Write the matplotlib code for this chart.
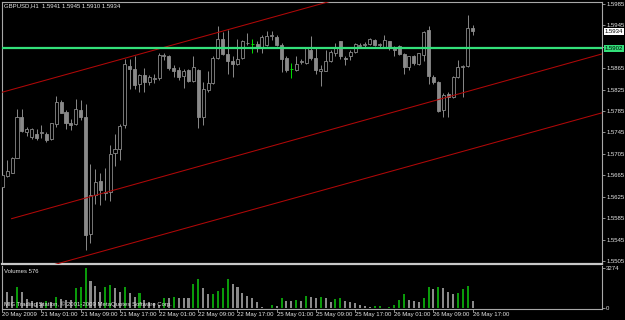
import numpy as np
import matplotlib
matplotlib.use('agg')
import matplotlib.pyplot as plt
from matplotlib.transforms import blended_transform_factory

# GBPUSD H1, bar 0 = 21 May 2009 01:00, one bar per hour (weekend skipped)
bar_idx = list(range(-8, 89))

opens = [1.5644, 1.5663, 1.5670, 1.5698, 1.5773, 1.5746, 1.5736, 1.5743,
         1.5744, 1.5742, 1.5732, 1.5760, 1.5802, 1.5784, 1.5762, 1.5760,
         1.5787, 1.5773, 1.5555, 1.5628, 1.5654, 1.5632, 1.5634, 1.5706,
         1.5715, 1.5759, 1.5869, 1.5864, 1.5836, 1.5852, 1.5840, 1.5845,
         1.5846, 1.5887, 1.5888, 1.5865, 1.5862, 1.5850, 1.5862, 1.5842,
         1.5862, 1.5774, 1.5824, 1.5837, 1.5884, 1.5919, 1.5891, 1.5879,
         1.5873, 1.5884, 1.5912, 1.5910, 1.5910, 1.5902, 1.5908, 1.5926,
         1.5924, 1.5908, 1.5885, 1.5864, 1.5862, 1.5877, 1.5874, 1.5900,
         1.5885, 1.5859, 1.5860, 1.5879, 1.5893, 1.5915, 1.5885, 1.5887,
         1.5895, 1.5907, 1.5908, 1.5910, 1.5918, 1.5909, 1.5905, 1.5916,
         1.5905, 1.5907, 1.5892, 1.5867, 1.5888, 1.5873, 1.5890, 1.5936,
         1.5848, 1.5840, 1.5787, 1.5816, 1.5811, 1.5848, 1.5867, 1.5870,
         1.5941]
highs = [1.5706, 1.5693, 1.5700, 1.5789, 1.5788, 1.5755, 1.5753, 1.5751,
         1.5759, 1.5746, 1.5763, 1.5813, 1.5806, 1.5787, 1.5771, 1.5807,
         1.5806, 1.5798, 1.5686, 1.5676, 1.5669, 1.5678, 1.5722, 1.5742,
         1.5760, 1.5882, 1.5883, 1.5887, 1.5855, 1.5865, 1.5852, 1.5855,
         1.5893, 1.5894, 1.5890, 1.5871, 1.5868, 1.5863, 1.5863, 1.5887,
         1.5863, 1.5840, 1.5859, 1.5888, 1.5943, 1.5933, 1.5936, 1.5887,
         1.5919, 1.5918, 1.5931, 1.5919, 1.5915, 1.5927, 1.5935, 1.5935,
         1.5927, 1.5912, 1.5887, 1.5874, 1.5887, 1.5882, 1.5904, 1.5925,
         1.5902, 1.5871, 1.5899, 1.5900, 1.5912, 1.5916, 1.5887, 1.5900,
         1.5912, 1.5913, 1.5914, 1.5921, 1.5919, 1.5912, 1.5927, 1.5916,
         1.5907, 1.5908, 1.5894, 1.5888, 1.5890, 1.5894, 1.5935, 1.5944,
         1.5852, 1.5842, 1.5818, 1.5821, 1.5850, 1.5880, 1.5871, 1.5964,
         1.5945]
lows = [1.5640, 1.5662, 1.5669, 1.5698, 1.5746, 1.5738, 1.5732, 1.5731,
        1.5734, 1.5728, 1.5731, 1.5756, 1.5781, 1.5751, 1.5750, 1.5759,
        1.5768, 1.5525, 1.5538, 1.5612, 1.5609, 1.5619, 1.5617, 1.5683,
        1.5693, 1.5753, 1.5827, 1.5827, 1.5821, 1.5821, 1.5834, 1.5838,
        1.5843, 1.5880, 1.5862, 1.5849, 1.5843, 1.5829, 1.5840, 1.5840,
        1.5753, 1.5759, 1.5821, 1.5836, 1.5882, 1.5890, 1.5855, 1.5849,
        1.5871, 1.5882, 1.5908, 1.5894, 1.5896, 1.5894, 1.5907, 1.5918,
        1.5907, 1.5858, 1.5858, 1.5846, 1.5860, 1.5873, 1.5873, 1.5880,
        1.5855, 1.5831, 1.5859, 1.5877, 1.5888, 1.5883, 1.5871, 1.5880,
        1.5893, 1.5904, 1.5905, 1.5908, 1.5907, 1.5905, 1.5904, 1.5900,
        1.5887, 1.5890, 1.5855, 1.5862, 1.5871, 1.5871, 1.5879, 1.5836,
        1.5836, 1.5784, 1.5774, 1.5774, 1.5809, 1.5846, 1.5812, 1.5868,
        1.5928]
closes = [1.5665, 1.5673, 1.5697, 1.5774, 1.5748, 1.5751, 1.5751, 1.5735,
          1.5745, 1.5731, 1.5762, 1.5802, 1.5782, 1.5762, 1.5759, 1.5788,
          1.5774, 1.5553, 1.5628, 1.5653, 1.5637, 1.5634, 1.5705, 1.5715,
          1.5758, 1.5873, 1.5864, 1.5834, 1.5852, 1.5840, 1.5849, 1.5847,
          1.5890, 1.5890, 1.5865, 1.5859, 1.5849, 1.5860, 1.5841, 1.5867,
          1.5774, 1.5826, 1.5838, 1.5885, 1.5919, 1.5891, 1.5879, 1.5873,
          1.5882, 1.5915, 1.5913, 1.5910, 1.5902, 1.5924, 1.5925, 1.5927,
          1.5908, 1.5883, 1.5862, 1.5864, 1.5873, 1.5878, 1.5902, 1.5885,
          1.5862, 1.5863, 1.5879, 1.5895, 1.5902, 1.5887, 1.5883, 1.5895,
          1.5910, 1.5909, 1.5911, 1.5919, 1.5908, 1.5910, 1.5918, 1.5902,
          1.5900, 1.5892, 1.5868, 1.5887, 1.5874, 1.5893, 1.5933, 1.5851,
          1.5839, 1.5786, 1.5815, 1.5811, 1.5848, 1.5868, 1.5869, 1.5941,
          1.5934]
volumes = [1693, 1310, 1037, 1775, 1310, 764, 601, 491,
           410, 601, 491, 956, 737, 710, 655, 1693,
           1775, 3274, 2239, 1856, 1310, 1720, 1911, 1693,
           1310, 1775, 1229, 956, 1229, 683, 546, 410,
           273, 874, 819, 901, 874, 846, 819, 1966,
           2402, 1638, 1147, 1174, 1420, 1638, 2375, 1966,
           1720, 1283, 1010, 874, 546, 137, 55, 273,
           191, 819, 601, 573, 683, 601, 1037, 901,
           874, 928, 874, 546, 737, 819, 601, 546,
           410, 273, 218, 137, 164, 191, 55, 137,
           273, 683, 1147, 655, 601, 519, 874, 1747,
           1583, 1720, 1693, 1310, 1174, 1256, 1583, 1802,
           576]

price_ticks = [1.5505, 1.5545, 1.5585, 1.5625, 1.5665, 1.5705, 1.5745,
               1.5785, 1.5825, 1.5865, 1.5905, 1.5945, 1.5985]
time_ticks = [-8, 0, 8, 16, 24, 32, 40, 48, 56, 64, 72, 80, 88]
time_labels = ['20 May 2009', '21 May 01:00', '21 May 09:00', '21 May 17:00',
               '22 May 01:00', '22 May 09:00', '22 May 17:00', '25 May 01:00',
               '25 May 09:00', '25 May 17:00', '26 May 01:00', '26 May 09:00',
               '26 May 17:00']

# trend lines: (bar, price) -> (bar, price)
trend_lines = [((-8.5, 1.5819), (114.5, 1.6131)),
               ((-6.1, 1.5584), (114.5, 1.5892)),
               ((-8.5, 1.5470), (114.5, 1.5782))]
hline_price = 1.5902

BG = 'black'
FRAME = '#a8a8a8'
TXT = '#e6e6e6'
GRAY = '#8a8a8a'
fonts = ['Liberation Sans', 'DejaVu Sans']
FS = 4.3

W, H = 625, 320
fig = plt.figure(figsize=(W / 100, H / 100), dpi=100, facecolor=BG)
ax = fig.add_axes([2 / W, 1 - 264 / H, 600 / W, 262.5 / H], facecolor=BG)
axv = fig.add_axes([2 / W, 1 - 309 / H, 600 / W, 43 / H], facecolor=BG)

x = np.array(bar_idx)
o, h, l, c = (np.array(v) for v in (opens, highs, lows, closes))
doji = o == c
bull = c > o

ax.vlines(x[~doji], l[~doji], h[~doji], colors=GRAY, lw=0.7, zorder=2)
ax.vlines(x[doji], l[doji], h[doji], colors='#00e000', lw=0.7, zorder=2)
nd = ~doji
ax.bar(x[nd], np.abs(c - o)[nd], bottom=np.minimum(o, c)[nd], width=0.62,
       color=np.where(bull[nd], 'black', GRAY), edgecolor=GRAY, lw=0.6, zorder=3)
ax.hlines(c[doji], x[doji] - 0.31, x[doji] + 0.31, colors='#00e000', lw=0.7, zorder=3)

for (x0, y0), (x1, y1) in trend_lines:
    ax.plot([x0, x1], [y0, y1], color='#b00808', lw=0.75, zorder=4)
ax.axhline(hline_price, color='#33e07a', lw=1.6, zorder=5)

ax.set_xlim(-8.06, 114.4)
ax.set_ylim(1.54993, 1.59897)
ax.set_xticks([])
ax.yaxis.tick_right()
# the 1.5905 label sits under the horizontal-line price box
ax.set_yticks(price_ticks,
              ['' if abs(p - hline_price) < 0.0006 else f'{p:.4f}' for p in price_ticks])
ax.tick_params(axis='y', direction='out', length=2, width=0.6, colors=FRAME,
               labelcolor=TXT, labelsize=FS, pad=1)
for lbl in ax.get_yticklabels():
    lbl.set_family(fonts)
for name, sp in ax.spines.items():
    sp.set_color(FRAME)
    sp.set_linewidth(0.8)
ax.spines['bottom'].set_linewidth(1.6)
ax.spines['bottom'].set_color('#c8c8c8')

tr = blended_transform_factory(ax.transAxes, ax.transData)
ax.text(1.004, closes[-1], f'{closes[-1]:.4f}', transform=tr, ha='left', va='center',
        fontsize=FS, family=fonts, color='black', zorder=6, clip_on=False,
        bbox=dict(boxstyle='square,pad=0.15', fc='white', ec='none'))
ax.text(1.004, hline_price, f'{hline_price:.4f}', transform=tr, ha='left', va='center',
        fontsize=FS, family=fonts, color='black', zorder=6, clip_on=False,
        bbox=dict(boxstyle='square,pad=0.15', fc='#33e07a', ec='none'))

fig.text(4 / W, 1 - 6 / H,
         'GBPUSD,H1  1.5941 1.5945 1.5910 1.5934',
         ha='left', va='center', fontsize=FS, family=fonts, color=TXT)

# volumes
v = np.array(volumes)
up = np.concatenate([[True], v[1:] > v[:-1]])
axv.bar(x, v, width=0.42, color=np.where(up, '#0a9a0a', '#8a8a8a'), lw=0)
axv.set_xlim(-8.06, 114.4)
axv.set_ylim(-57, 3462)
axv.yaxis.tick_right()
axv.set_yticks([0, max(volumes)], ['0', str(max(volumes))])
axv.tick_params(axis='y', direction='out', length=2, width=0.6, colors=FRAME,
                labelcolor=TXT, labelsize=FS, pad=1)
axv.set_xticks(time_ticks, time_labels)
axv.tick_params(axis='x', direction='out', length=2, width=0.6, colors=FRAME,
                labelcolor=TXT, labelsize=FS, pad=0.5)
for lbl in axv.get_xticklabels():
    lbl.set_ha('left')
    lbl.set_family(fonts)
for lbl in axv.get_yticklabels():
    lbl.set_family(fonts)
for name, sp in axv.spines.items():
    sp.set_color(FRAME)
    sp.set_linewidth(0.8)
axv.spines['top'].set_visible(False)

axv.text(0.003, 0.88, f'Volumes {volumes[-1]}', transform=axv.transAxes, ha='left',
         va='center', fontsize=FS, family=fonts, color=TXT)
axv.text(0.003, 0.12, 'MIG Trading Station, \u00a9 2001-2009 MetaQuotes Software Corp.',
         transform=axv.transAxes, ha='left', va='center', fontsize=FS,
         family=fonts, color=TXT, zorder=5)

fig.savefig('out.png', dpi=100, facecolor=BG)
